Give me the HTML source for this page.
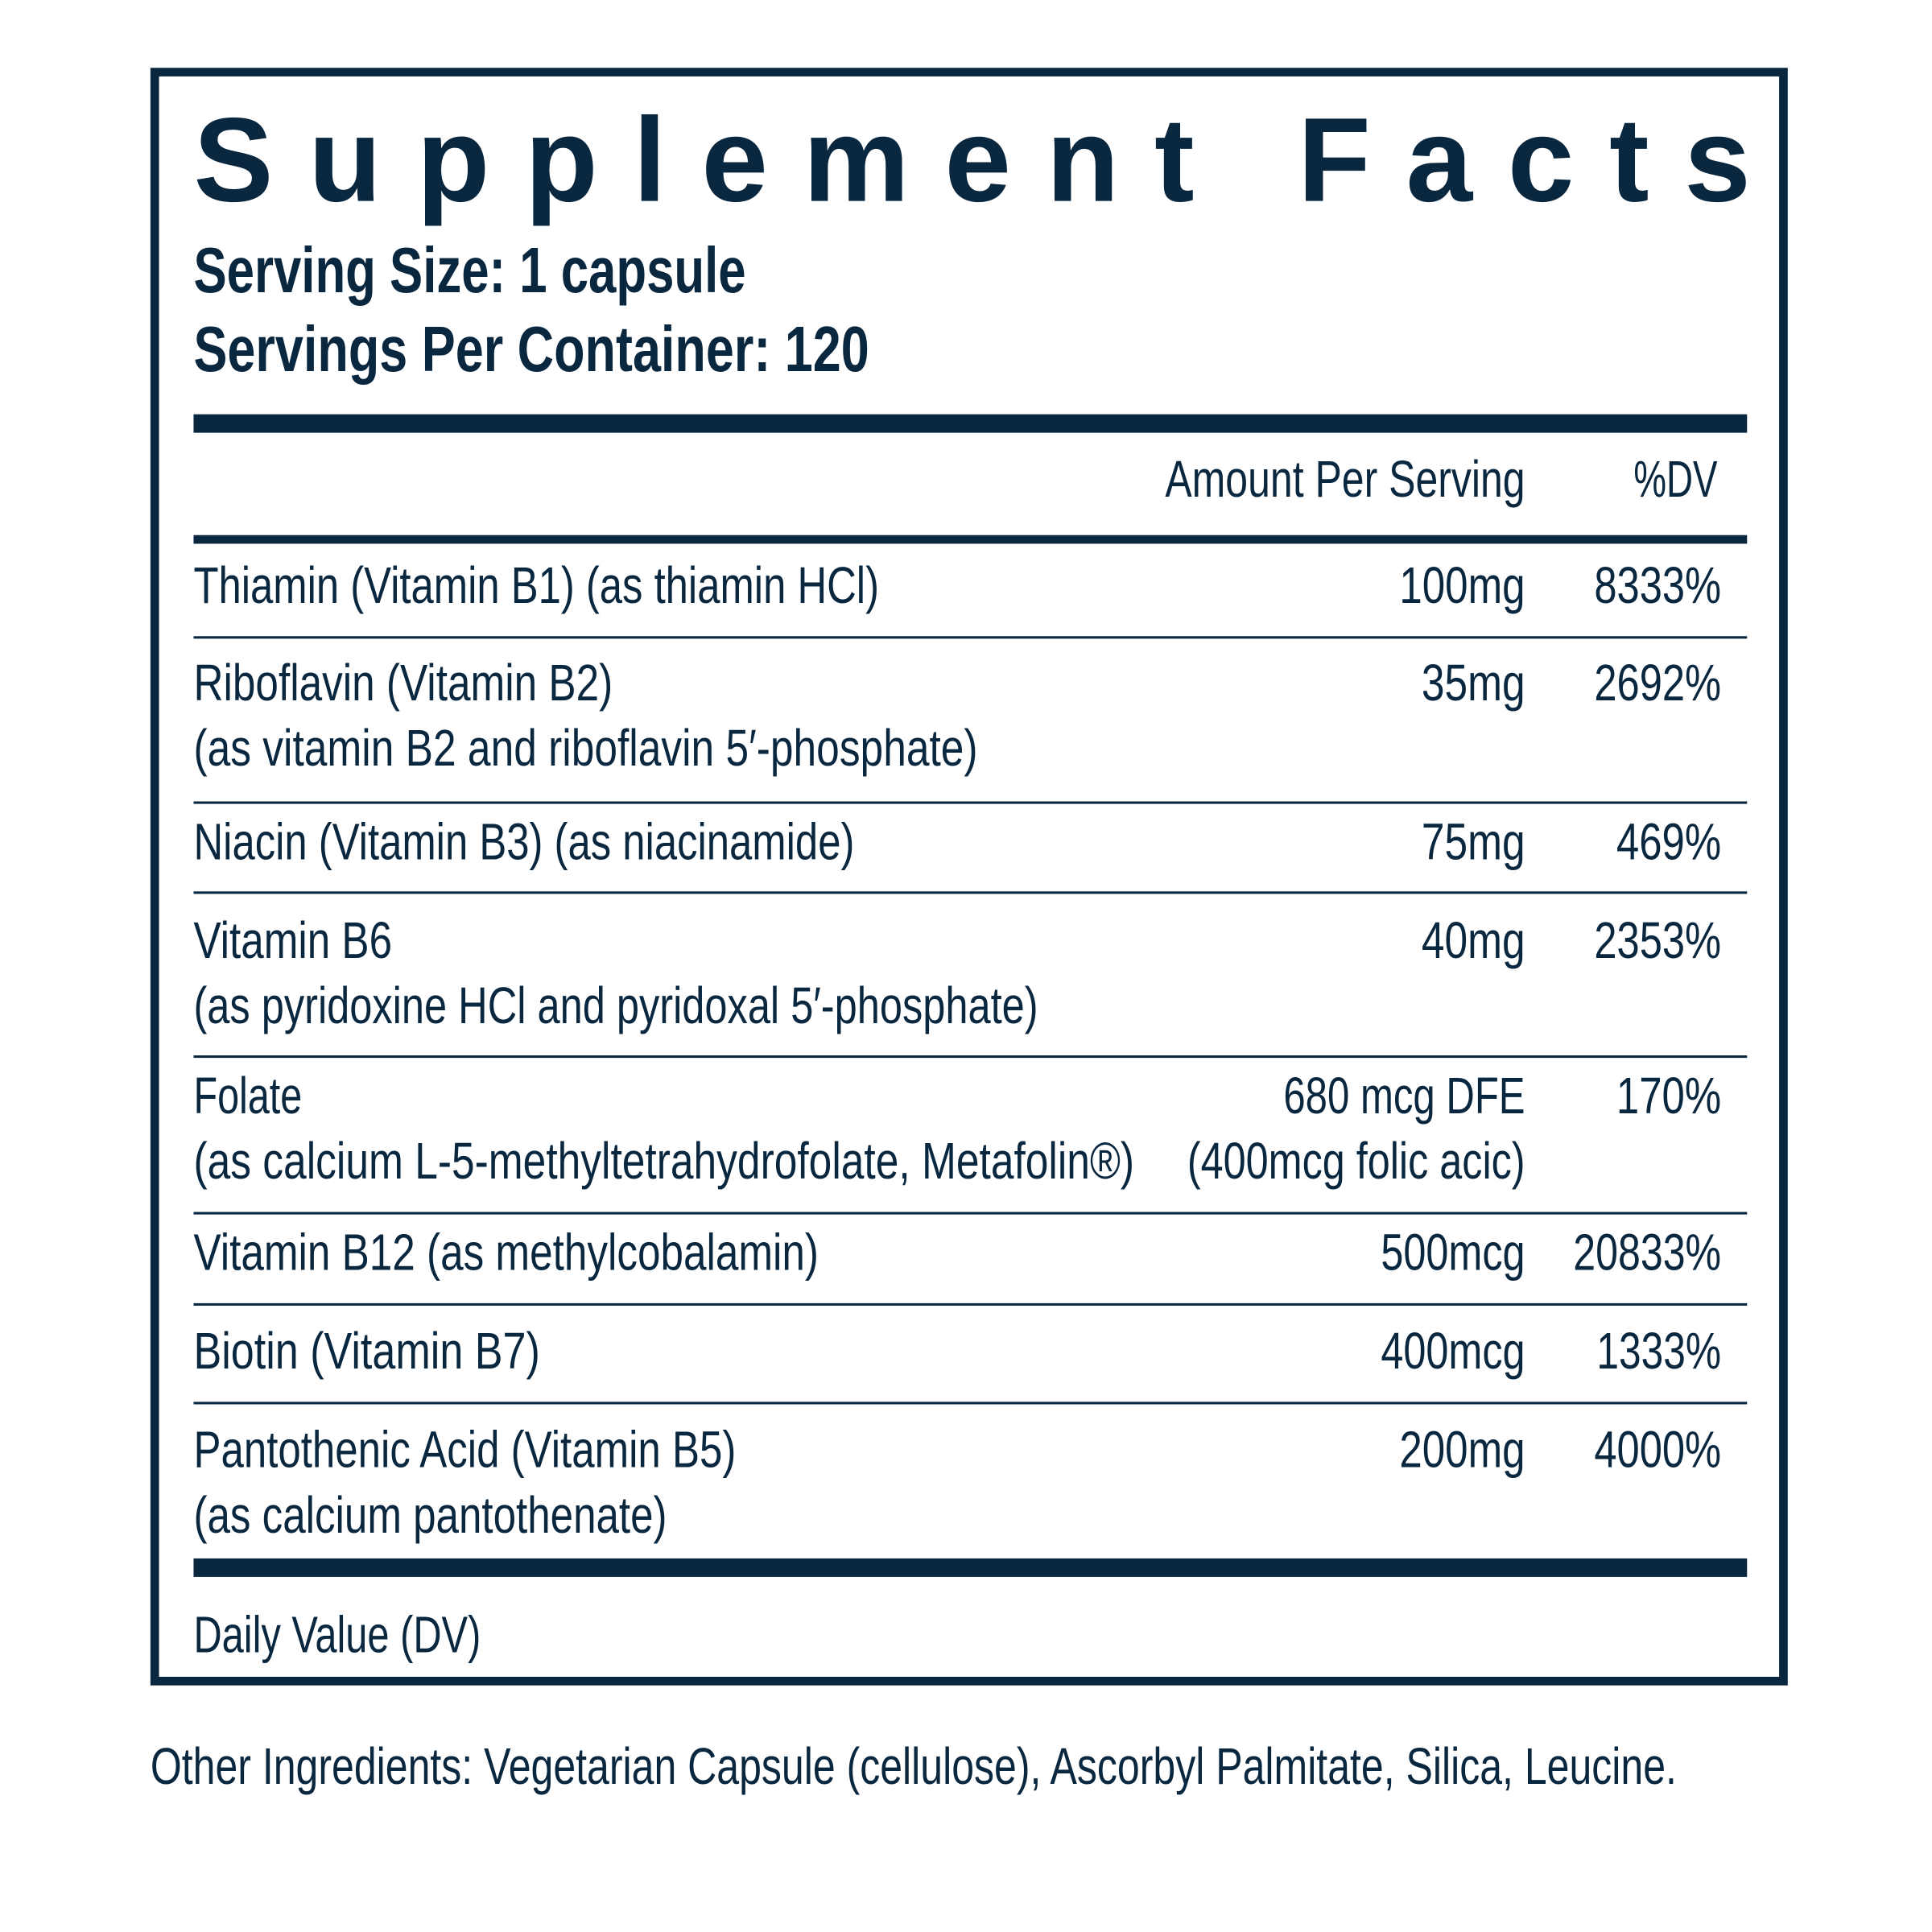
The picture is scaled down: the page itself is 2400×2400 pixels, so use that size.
<!DOCTYPE html>
<html><head><meta charset="utf-8"><style>
html,body{margin:0;padding:0;background:#fff;}
svg{display:block;}
text{font-family:"Liberation Sans Narrow","Liberation Sans",sans-serif;fill:#0a2740;}
.r{font-size:42px;}
.b{font-size:52px;font-weight:bold;}
</style></head><body>
<svg width="2400" height="2400" viewBox="0 0 1567 1567" xmlns="http://www.w3.org/2000/svg">
<rect x="125.5" y="58.5" width="1321" height="1305" fill="none" stroke="#0a2740" stroke-width="7"/>
<text x="157" y="163" style="font-size:97px;font-weight:bold;font-family:'Liberation Sans',sans-serif" textLength="1263" lengthAdjust="spacing">Supplement Facts</text>
<text class="b" x="157" y="237" textLength="448" lengthAdjust="spacingAndGlyphs">Serving Size: 1 capsule</text>
<text class="b" x="157" y="301" textLength="548" lengthAdjust="spacingAndGlyphs">Servings Per Container: 120</text>
<rect x="157" y="336" width="1260" height="15" fill="#0a2740"/>
<text class="r" x="945" y="403" textLength="292" lengthAdjust="spacingAndGlyphs">Amount Per Serving</text>
<text class="r" x="1325" y="403" textLength="68" lengthAdjust="spacingAndGlyphs">%DV</text>
<rect x="157" y="434" width="1260" height="7" fill="#0a2740"/>
<g fill="#0a2740">
<rect x="157" y="516" width="1260" height="2"/>
<rect x="157" y="650" width="1260" height="2"/>
<rect x="157" y="723" width="1260" height="2"/>
<rect x="157" y="856" width="1260" height="2"/>
<rect x="157" y="983" width="1260" height="2"/>
<rect x="157" y="1057" width="1260" height="2"/>
<rect x="157" y="1137" width="1260" height="2"/>
</g>
<rect x="157" y="1264" width="1260" height="15" fill="#0a2740"/>
<g class="r">
<text class="r" x="157" y="489" textLength="556" lengthAdjust="spacingAndGlyphs">Thiamin (Vitamin B1) (as thiamin HCl)</text>
<text class="r" x="157" y="568" textLength="340" lengthAdjust="spacingAndGlyphs">Riboflavin (Vitamin B2)</text>
<text class="r" x="157" y="621" textLength="636" lengthAdjust="spacingAndGlyphs">(as vitamin B2 and riboflavin 5′-phosphate)</text>
<text class="r" x="157" y="697" textLength="536" lengthAdjust="spacingAndGlyphs">Niacin (Vitamin B3) (as niacinamide)</text>
<text class="r" x="157" y="777" textLength="161" lengthAdjust="spacingAndGlyphs">Vitamin B6</text>
<text class="r" x="157" y="830" textLength="685" lengthAdjust="spacingAndGlyphs">(as pyridoxine HCl and pyridoxal 5′-phosphate)</text>
<text class="r" x="157" y="903" textLength="88" lengthAdjust="spacingAndGlyphs">Folate</text>
<text class="r" x="157" y="956" textLength="763" lengthAdjust="spacingAndGlyphs">(as calcium L-5-methyltetrahydrofolate, Metafolin®)</text>
<text class="r" x="157" y="1030" textLength="507" lengthAdjust="spacingAndGlyphs">Vitamin B12 (as methylcobalamin)</text>
<text class="r" x="157" y="1110" textLength="281" lengthAdjust="spacingAndGlyphs">Biotin (Vitamin B7)</text>
<text class="r" x="157" y="1190" textLength="440" lengthAdjust="spacingAndGlyphs">Pantothenic Acid (Vitamin B5)</text>
<text class="r" x="157" y="1243" textLength="384" lengthAdjust="spacingAndGlyphs">(as calcium pantothenate)</text>
<text class="r" x="157" y="1340" textLength="233" lengthAdjust="spacingAndGlyphs">Daily Value (DV)</text>

<text class="r" x="1135" y="489" textLength="102" lengthAdjust="spacingAndGlyphs">100mg</text>
<text class="r" x="1153" y="568" textLength="84" lengthAdjust="spacingAndGlyphs">35mg</text>
<text class="r" x="1153" y="697" textLength="84" lengthAdjust="spacingAndGlyphs">75mg</text>
<text class="r" x="1153" y="777" textLength="84" lengthAdjust="spacingAndGlyphs">40mg</text>
<text class="r" x="1041" y="903" textLength="196" lengthAdjust="spacingAndGlyphs">680 mcg  DFE</text>
<text class="r" x="963" y="956" textLength="274" lengthAdjust="spacingAndGlyphs">(400mcg folic acic)</text>
<text class="r" x="1120" y="1030" textLength="117" lengthAdjust="spacingAndGlyphs">500mcg</text>
<text class="r" x="1120" y="1110" textLength="117" lengthAdjust="spacingAndGlyphs">400mcg</text>
<text class="r" x="1135" y="1190" textLength="102" lengthAdjust="spacingAndGlyphs">200mg</text>

<text class="r" x="1293" y="489" textLength="103" lengthAdjust="spacingAndGlyphs">8333%</text>
<text class="r" x="1293" y="568" textLength="103" lengthAdjust="spacingAndGlyphs">2692%</text>
<text class="r" x="1311" y="697" textLength="85" lengthAdjust="spacingAndGlyphs">469%</text>
<text class="r" x="1293" y="777" textLength="103" lengthAdjust="spacingAndGlyphs">2353%</text>
<text class="r" x="1311" y="903" textLength="85" lengthAdjust="spacingAndGlyphs">170%</text>
<text class="r" x="1276" y="1030" textLength="120" lengthAdjust="spacingAndGlyphs">20833%</text>
<text class="r" x="1295" y="1110" textLength="101" lengthAdjust="spacingAndGlyphs">1333%</text>
<text class="r" x="1293" y="1190" textLength="103" lengthAdjust="spacingAndGlyphs">4000%</text>
</g>
<text class="r" x="122" y="1447" textLength="1238" lengthAdjust="spacingAndGlyphs">Other Ingredients: Vegetarian Capsule (cellulose), Ascorbyl Palmitate, Silica, Leucine.</text>
</svg>
</body></html>
